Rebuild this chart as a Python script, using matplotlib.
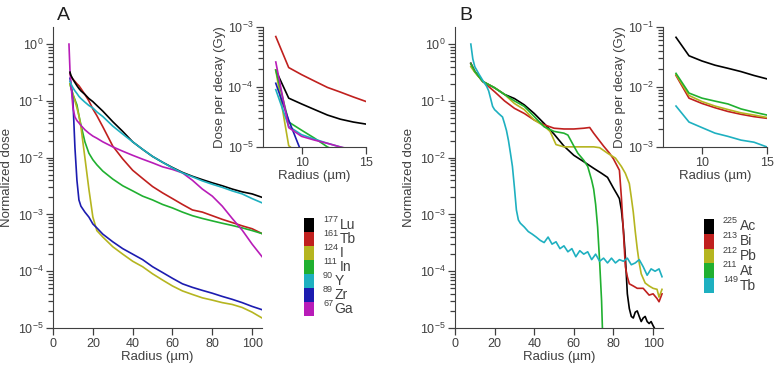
import matplotlib
matplotlib.use("Agg")
import matplotlib.pyplot as plt
from matplotlib.patches import Rectangle
from matplotlib.ticker import FixedLocator, NullFormatter

plt.rcParams['font.family'] = ['Liberation Sans', 'DejaVu Sans']
plt.rcParams['mathtext.fontset'] = 'custom'
plt.rcParams['mathtext.rm'] = 'Liberation Sans'
plt.rcParams['mathtext.it'] = 'Liberation Sans:italic'
plt.rcParams['mathtext.bf'] = 'Liberation Sans:bold'
plt.rcParams['ytick.minor.visible'] = True

# ---- Panel A : beta / Auger emitters ----
noms_A = ['177', '161', '124', '111', '90', '89', '67']
elements_A = ['Lu', 'Tb', 'I', 'In', 'Y', 'Zr', 'Ga']
couleurs_A = ['#000000', '#c0201e', '#b5b520', '#20b030', '#1eb0c0', '#1c1cb0', '#b81cb8']

rayon_A = [8.5, 9, 10, 11, 12, 13, 14, 16, 18, 20, 22, 25, 30, 35, 40, 45, 50,
           55, 60, 65, 70, 75, 80, 85, 90, 95, 100, 105]
lu177 = [0.32, 0.28, 0.24, 0.21, 0.185, 0.165, 0.15, 0.13, 0.11, 0.097, 0.083, 0.066,
         0.043, 0.029, 0.019, 0.014, 0.0105, 0.0083, 0.0067, 0.0055, 0.0047, 0.0041,
         0.0036, 0.0032, 0.0028, 0.0025, 0.0023, 0.002]
tb161 = [0.3, 0.27, 0.24, 0.22, 0.2, 0.185, 0.165, 0.13, 0.1, 0.072, 0.055, 0.035,
         0.016, 0.0095, 0.006, 0.0043, 0.0031, 0.0024, 0.0019, 0.0015, 0.0012, 0.0011,
         0.00095, 0.00082, 0.00072, 0.00063, 0.00056, 0.00046]
i124 = [0.2, 0.17, 0.13, 0.1, 0.075, 0.055, 0.035, 0.01, 0.0028, 0.0009, 0.00052, 0.0004,
        0.00027, 0.0002, 0.00015, 0.00012, 9e-5, 7e-5, 5.5e-5, 4.5e-5, 3.9e-5, 3.4e-5,
        3.1e-5, 2.8e-5, 2.6e-5, 2.3e-5, 1.9e-5, 1.5e-5]
in111 = [0.2, 0.17, 0.13, 0.105, 0.085, 0.055, 0.038, 0.019, 0.012, 0.0092, 0.0075, 0.0058,
         0.0042, 0.0032, 0.0026, 0.0021, 0.0018, 0.0015, 0.0013, 0.0011, 0.00095, 0.00085,
         0.00077, 0.0007, 0.00064, 0.00058, 0.00052, 0.00046]
y90 = [0.22, 0.2, 0.17, 0.15, 0.135, 0.12, 0.11, 0.095, 0.083, 0.075, 0.064, 0.053,
       0.036, 0.026, 0.019, 0.014, 0.0105, 0.0083, 0.0066, 0.0054, 0.0046, 0.0039,
       0.0034, 0.003, 0.0026, 0.0023, 0.0019, 0.0016]
zr89 = [0.25, 0.2, 0.1, 0.015, 0.004, 0.0018, 0.0014, 0.0011, 0.0009, 0.00068, 0.00058,
        0.00045, 0.00033, 0.00025, 0.0002, 0.00016, 0.00012, 9.5e-5, 7.5e-5, 6e-5, 5.2e-5,
        4.6e-5, 4.1e-5, 3.6e-5, 3.2e-5, 2.8e-5, 2.4e-5, 2.1e-5]
rayon_ga = [8] + rayon_A
ga67 = [1.0, 0.35, 0.2, 0.075, 0.052, 0.045, 0.041, 0.037, 0.031, 0.027, 0.024, 0.022, 0.019,
        0.0155, 0.013, 0.011, 0.0094, 0.0081, 0.0069, 0.0062, 0.0054, 0.004, 0.0028, 0.0021,
        0.0014, 0.00085, 0.00053, 0.0003, 0.00018]

# inset A : dose per decay (Gy)
rayon_enc = [8, 9, 10, 11, 12, 13, 14, 15]
enc_A = {
    'Lu': [1.9e-4, 6.5e-5, 5.2e-5, 4.2e-5, 3.4e-5, 2.9e-5, 2.6e-5, 2.4e-5],
    'Tb': [6.9e-4, 2.1e-4, 1.6e-4, 1.25e-4, 9.8e-5, 8.2e-5, 6.8e-5, 5.7e-5],
    'I': [1.9e-4, 1.05e-5, 7e-6, 6e-6, 5e-6, 4e-6, 3.5e-6, 3e-6],
    'In': [1.9e-4, 2.6e-5, 1.9e-5, 1.4e-5, 1.0e-5, 8e-6, 7e-6, 6e-6],
    'Y': [9e-5, 2.2e-5, 1.6e-5, 1.35e-5, 1.15e-5, 1.0e-5, 8.5e-6, 7e-6],
    'Zr': [1.15e-4, 2.8e-5, 8e-6, 6e-6, 5e-6, 4e-6, 3.5e-6, 3e-6],
    'Ga': [2.6e-4, 2.1e-5, 1.5e-5, 1.3e-5, 1.15e-5, 1.0e-5, 9e-6, 8e-6],
}

# ---- Panel B : alpha emitters ----
noms_B = ['225', '213', '212', '211', '149']
elements_B = ['Ac', 'Bi', 'Pb', 'At', 'Tb']
couleurs_B = ['#000000', '#c0201e', '#b5b520', '#20b030', '#1eb0c0']

rayon_ac = [8, 10, 14, 20, 25, 30, 35, 40, 45, 50, 55, 60, 65, 70, 74, 77, 80, 82, 83, 84,
            85, 86, 87, 88, 89, 90, 91, 92, 93, 94, 95, 96, 97, 98, 99, 100, 101, 102]
ac225 = [0.46, 0.33, 0.22, 0.17, 0.13, 0.11, 0.085, 0.06, 0.04, 0.026, 0.016, 0.011, 0.0085,
         0.0065, 0.0053, 0.0045, 0.0029, 0.0022, 0.0019, 0.0012, 5.5e-4, 1.8e-4, 4e-5, 2.2e-5,
         1.6e-5, 1.5e-5, 1.9e-5, 2.0e-5, 1.6e-5, 1.3e-5, 1.5e-5, 1.6e-5, 1.3e-5, 1.2e-5,
         1.3e-5, 1.1e-5, 9.5e-6, 8e-6]
rayon_bi = [8, 10, 14, 20, 25, 30, 35, 40, 45, 50, 55, 60, 65, 68, 70, 75, 78, 80, 82, 83,
            84, 85, 86, 87, 88, 90, 92, 95, 98, 100, 102, 103, 104.5]
bi213 = [0.45, 0.33, 0.22, 0.145, 0.1, 0.074, 0.06, 0.046, 0.038, 0.033, 0.032, 0.032, 0.033,
         0.034, 0.027, 0.016, 0.012, 0.0095, 0.007, 0.006, 0.002, 5e-4, 1.2e-4, 8e-5, 6e-5,
         5.5e-5, 5e-5, 5e-5, 3.8e-5, 4e-5, 3.3e-5, 2.9e-5, 4e-5]
rayon_pb = [8, 10, 14, 20, 25, 30, 35, 40, 45, 48, 51, 55, 60, 65, 70, 73, 77, 81, 84, 86,
            88, 89, 90, 91, 92, 93, 94, 96, 98, 100, 102, 103, 104.5]
pb212 = [0.4, 0.32, 0.22, 0.17, 0.13, 0.09, 0.07, 0.046, 0.036, 0.029, 0.017, 0.0155, 0.0155,
         0.0155, 0.0155, 0.015, 0.012, 0.0098, 0.007, 0.0053, 0.0035, 0.002, 0.0011, 5e-4,
         2.5e-4, 1.4e-4, 9e-5, 6.2e-5, 5.5e-5, 5e-5, 4.8e-5, 3.5e-5, 4.8e-5]
rayon_at = [8, 10, 14, 20, 25, 30, 35, 40, 45, 50, 55, 57, 60, 62, 65, 67, 69, 70, 71, 72,
            73, 74, 74.5]
at211 = [0.45, 0.33, 0.22, 0.17, 0.13, 0.1, 0.08, 0.053, 0.035, 0.029, 0.027, 0.025, 0.016,
         0.012, 0.009, 0.007, 0.004, 0.0028, 0.0015, 6e-4, 1.5e-4, 3e-5, 8e-6]
rayon_tb = [8, 9, 10, 12, 14, 16, 17, 18, 19, 20, 21, 22, 24, 25, 26, 27, 28, 29, 30, 31, 32,
            33, 35, 37, 39, 41, 43, 45, 47, 49, 51, 53, 55, 57, 59, 61, 63, 65, 67, 69, 71,
            73, 75, 77, 79, 81, 83, 85, 87, 89, 91, 93, 95, 97, 99, 101, 103, 104.5]
tb149 = [1.0, 0.55, 0.4, 0.3, 0.23, 0.18, 0.15, 0.11, 0.08, 0.07, 0.065, 0.06, 0.052, 0.04,
         0.03, 0.02, 0.012, 0.007, 0.003, 0.0012, 8e-4, 7e-4, 6e-4, 5e-4, 4.5e-4, 4e-4,
         3.5e-4, 3.2e-4, 4e-4, 3e-4, 3.3e-4, 2.5e-4, 2.8e-4, 2.2e-4, 2.5e-4, 1.8e-4, 2.3e-4,
         2.0e-4, 2.2e-4, 1.6e-4, 2.0e-4, 1.5e-4, 1.7e-4, 1.4e-4, 1.7e-4, 1.4e-4, 1.6e-4,
         1.5e-4, 1.7e-4, 1.3e-4, 1.4e-4, 1.6e-4, 1.2e-4, 8.5e-5, 1.1e-4, 1.0e-4, 1.1e-4, 8e-5]

# inset B
enc_B = {
    'Ac': [0.067, 0.033, 0.027, 0.023, 0.0204, 0.018, 0.0155, 0.0136],
    'Bi': [0.0155, 0.0065, 0.0053, 0.0045, 0.0039, 0.0035, 0.0032, 0.003],
    'Pb': [0.016, 0.0072, 0.0057, 0.0048, 0.0042, 0.0037, 0.0034, 0.0031],
    'At': [0.0168, 0.0079, 0.0065, 0.0058, 0.0052, 0.0043, 0.0038, 0.0034],
    'Tb': [0.0048, 0.0026, 0.0021, 0.0017, 0.0015, 0.0013, 0.0012, 0.001],
}

GRIS = '#404040'


def styliser(ax, ylim, taille=9):
    for cote in ['top', 'right']:
        ax.spines[cote].set_visible(False)
    for cote in ['left', 'bottom']:
        ax.spines[cote].set_color(GRIS)
        ax.spines[cote].set_linewidth(0.8)
    # graduations mineures log (2..9 dans chaque décade), posées à la main
    mineures = [m * 10.0 ** e for e in range(-7, 2) for m in range(2, 10)]
    mineures = [t for t in mineures if ylim[0] < t < ylim[1]]
    ax.set_ylim(*ylim)
    ax.set_yticks(mineures, minor=True)
    ax.yaxis.set_minor_formatter(NullFormatter())
    ax.tick_params(axis='y', which='minor', left=True, length=3.5, width=0.9, color=GRIS)
    ax.tick_params(which='both', labelcolor=GRIS, labelsize=taille, pad=2)
    ax.tick_params(which='major', length=5, width=0.9, color=GRIS)


def panneau_principal(ax, series, lettre):
    for r, v, c in series:
        ax.plot(r, v, color=c, lw=1.2)
    ax.set_yscale('log')
    ax.set_xlim(0, 105)
    ax.set_xticks([0, 20, 40, 60, 80, 100])
    ax.set_xticks([], minor=True)
    ax.set_yticks([1e-5, 1e-4, 1e-3, 1e-2, 1e-1, 1])
    ax.set_xlabel('Radius (µm)', fontsize=9.5, color=GRIS, labelpad=1)
    ax.set_ylabel('Normalized dose', fontsize=9.5, color=GRIS, labelpad=3)
    styliser(ax, (1e-5, 2))
    ax.text(0.02, 1.01, lettre, transform=ax.transAxes, fontsize=14, color='#202020',
            va='bottom', ha='left')


def panneau_encart(ax, valeurs, couleurs, ylim):
    for (nom, v), c in zip(valeurs.items(), couleurs):
        ax.plot(rayon_enc, v, color=c, lw=1.2)
    ax.set_yscale('log')
    ax.set_xlim(7, 15)
    ax.set_xticks([10, 15])
    ax.set_xticks([], minor=True)
    ax.set_yticks([ylim[0], ylim[0] * 10, ylim[1]])
    ax.set_xlabel('Radius (µm)', fontsize=9.5, color=GRIS, labelpad=1)
    ax.set_ylabel('Dose per decay (Gy)', fontsize=9.5, color=GRIS, labelpad=1)
    styliser(ax, ylim)
    ax.patch.set_alpha(0)


def legende(fig, rect, masses, elements, couleurs):
    ax = fig.add_axes(rect)
    n = len(masses)
    largeur_px = rect[2] * 780
    ax.set_xlim(0, largeur_px)
    ax.set_ylim(n, 0)
    ax.axis('off')
    for i, (m, e, c) in enumerate(zip(masses, elements, couleurs)):
        ax.add_patch(Rectangle((0, i), 9.5, 1, color=c, lw=0))
        ax.text(19, i + 0.1, m, fontsize=6.5, color=GRIS, ha='left', va='center')
        ax.text(20 + 5.3 * len(m), i + 0.5, e, fontsize=10, color=GRIS,
                ha='left', va='center')


fig = plt.figure(figsize=(7.8, 3.73), dpi=100)

ax_A = fig.add_axes([0.068, 0.1206, 0.268, 0.807])
panneau_principal(ax_A, [
    (rayon_A, tb161, couleurs_A[1]),
    (rayon_A, in111, couleurs_A[3]),
    (rayon_A, i124, couleurs_A[2]),
    (rayon_A, zr89, couleurs_A[5]),
    (rayon_ga, ga67, couleurs_A[6]),
    (rayon_A, lu177, couleurs_A[0]),
    (rayon_A, y90, couleurs_A[4]),
], 'A')

ax_Ai = fig.add_axes([0.337, 0.606, 0.1325, 0.322])
panneau_encart(ax_Ai, enc_A, couleurs_A, (1e-5, 1e-3))

ax_B = fig.add_axes([0.5833, 0.1206, 0.2667, 0.807])
panneau_principal(ax_B, [
    (rayon_ac, ac225, couleurs_B[0]),
    (rayon_bi, bi213, couleurs_B[1]),
    (rayon_pb, pb212, couleurs_B[2]),
    (rayon_at, at211, couleurs_B[3]),
    (rayon_tb, tb149, couleurs_B[4]),
], 'B')

ax_Bi = fig.add_axes([0.85, 0.606, 0.1333, 0.322])
panneau_encart(ax_Bi, enc_B, couleurs_B, (1e-3, 1e-1))

legende(fig, [304 / 780, 1 - 316 / 373, 60 / 780, 98 / 373], noms_A, elements_A, couleurs_A)
legende(fig, [704 / 780, 1 - 293 / 373, 60 / 780, 74 / 373], noms_B, elements_B, couleurs_B)

fig.savefig('out.png', dpi=100)
